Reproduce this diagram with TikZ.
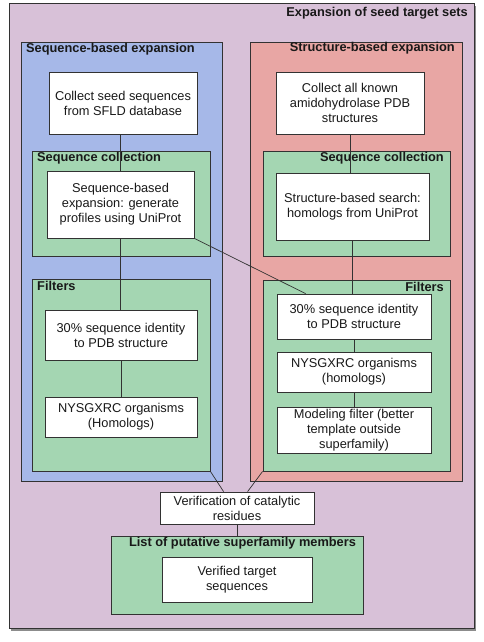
\documentclass[tikz,border=0pt]{standalone}
\usepackage{fontspec}
\setmainfont{Liberation Sans}
\usetikzlibrary{calc,shadows}
\definecolor{purplebg}{RGB}{216,193,216}
\definecolor{bluebg}{RGB}{166,184,232}
\definecolor{redbg}{RGB}{232,166,164}
\definecolor{greenbg}{RGB}{164,214,178}
\definecolor{edge}{RGB}{50,50,50}
\definecolor{txt}{RGB}{25,25,25}
\tikzset{
  grp/.style={draw=edge, line width=0.8pt, rectangle, inner sep=0pt},
  wbox/.style={draw=edge, line width=0.8pt, fill=white, rectangle, inner sep=0pt, align=center,
    text=txt, font=\fontsize{12.8}{15}\selectfont},
  ttl/.style={inner sep=0pt, text=txt, font=\fontsize{12.8}{15}\selectfont\bfseries},
  conn/.style={draw=edge, line width=0.7pt},
}
\begin{document}
\begin{tikzpicture}[x=1pt,y=-1pt]
\useasboundingbox (0,0) rectangle (484,642);
% outer
\node[grp, fill=purplebg, minimum width=465, minimum height=625,
  drop shadow={shadow xshift=1.5pt, shadow yshift=-3pt, opacity=0.45, fill=black}] (outer) at (241.5,315.5) {};
\node[ttl, anchor=east] (touter) at (468,13) {Expansion of seed target sets};
% blue and red
\node[grp, fill=bluebg, minimum width=201, minimum height=439] (blue) at (121.5,261.5) {};
\node[ttl, anchor=west] (tblue) at (26,49) {Sequence-based expansion};
\node[grp, fill=redbg, minimum width=212, minimum height=439] (red) at (356,261.5) {};
\node[ttl, anchor=east] (tred) at (455,48) {Structure-based expansion};
% green groups
\node[grp, fill=greenbg, minimum width=178, minimum height=105] (lsc) at (121,203.5) {};
\node[ttl, anchor=west] (tlsc) at (37,158) {Sequence collection};
\node[grp, fill=greenbg, minimum width=187, minimum height=105] (rsc) at (356.5,203.5) {};
\node[ttl, anchor=east] (trsc) at (444,158) {Sequence collection};
\node[grp, fill=greenbg, minimum width=178, minimum height=192] (lf) at (121,375) {};
\node[ttl, anchor=west] (tlf) at (37,286) {Filters};
\node[grp, fill=greenbg, minimum width=187, minimum height=191] (rf) at (356.5,375.5) {};
\node[ttl, anchor=east] (trf) at (444,287) {Filters};
\node[grp, fill=greenbg, minimum width=252, minimum height=78] (list) at (237,575) {};
\node[ttl] (tlist) at (242.5,543) {List of putative superfamily members};
% white boxes
\node[wbox, minimum width=148, minimum height=62] (seed) at (123,103) {Collect seed sequences\\from SFLD database};
\node[wbox, minimum width=148, minimum height=62] (known) at (350,103) {Collect all known\\amidohydrolase PDB\\structures};
\node[wbox, minimum width=147, minimum height=67] (seqexp) at (120.5,204.5) {Sequence-based\\expansion: generate\\profiles using UniProt};
\node[wbox, minimum width=153, minimum height=67] (strs) at (352.5,206.5) {Structure-based search:\\homologs from UniProt};
\node[wbox, minimum width=152, minimum height=50] (lthirty) at (121,335) {30\% sequence identity\\to PDB structure};
\node[wbox, minimum width=152, minimum height=40] (lnys) at (121,417) {NYSGXRC organisms\\(Homologs)};
\node[wbox, minimum width=154, minimum height=45] (rthirty) at (354,316.5) {30\% sequence identity\\to PDB structure};
\node[wbox, minimum width=154, minimum height=40] (rnys) at (354,372) {NYSGXRC organisms\\(homologs)};
\node[wbox, minimum width=154, minimum height=46] (rmod) at (354,430) {Modeling filter (better\\template outside\\superfamily)};
\node[wbox, minimum width=154, minimum height=32] (verif) at (237,508) {Verification of catalytic\\residues};
\node[wbox, minimum width=150, minimum height=45] (verified) at (237,579.5) {Verified target\\sequences};
% connectors
\draw[conn] (seed.south -| seqexp.north) -- (seqexp.north);
\draw[conn] (seqexp.south) -- (seqexp.south |- lthirty.north);
\draw[conn] (lthirty) -- (lnys);
\draw[conn] (known.south) -- (known.south |- strs.north);
\draw[conn] (strs.south) -- (strs.south |- rthirty.north);
\draw[conn] (rthirty) -- (rnys);
\draw[conn] (rnys) -- (rmod);
\draw[conn] (seqexp.south east) -- ($(rthirty.north west)+(29,0)$);
\draw[conn] (lf.south east) -- ($(verif.north west)+(64,0)$);
\draw[conn] (rf.south west) -- ($(verif.north west)+(88,0)$);
\draw[conn] (verif) -- (list);
\end{tikzpicture}
\end{document}
